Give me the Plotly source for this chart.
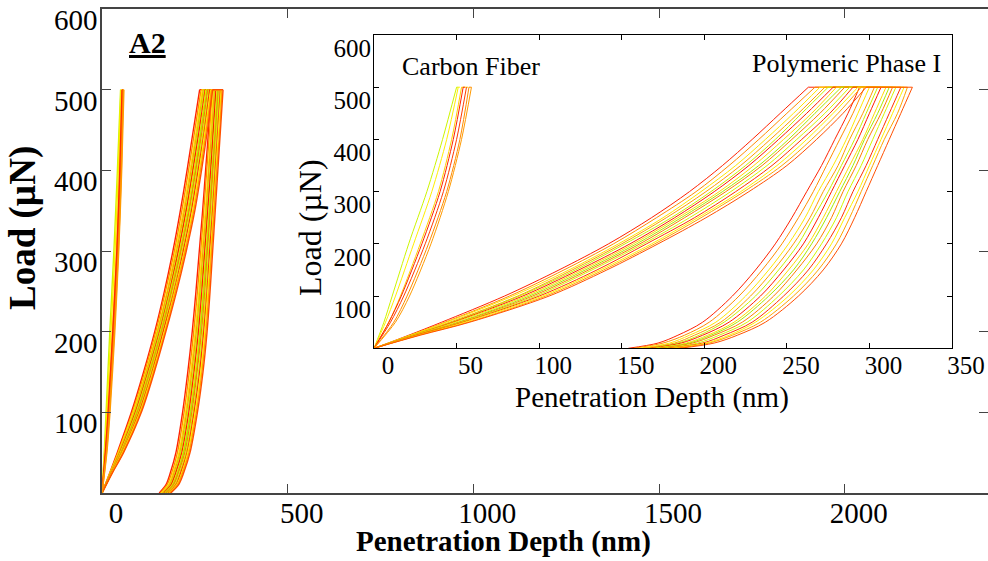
import plotly.graph_objects as go

# ---------------- data ----------------
LOAD_LEVELS = [0, 25, 50, 100, 150, 200, 250, 300, 350, 400, 450, 500]        # µN, loading
UNLOAD_LEVELS = [0, 10, 25, 50, 100, 150, 200, 250, 300, 350, 400, 450, 500]  # µN, unloading
HOLD_LOAD = 500

# Polymeric Phase I: penetration depth (nm) at each load level
POLY_LOADING = [
    [0, 21, 41, 79, 112, 142, 168, 191, 211, 229, 246, 263],
    [0, 22, 43, 82, 115, 145, 171, 195, 215, 233, 250, 267],
    [0, 22, 44, 84, 118, 148, 175, 198, 219, 237, 254, 270],
    [0, 23, 46, 87, 120, 150, 177, 201, 222, 240, 257, 273],
    [0, 23, 47, 88, 122, 152, 180, 204, 225, 243, 259, 275],
    [0, 24, 48, 90, 124, 155, 182, 206, 227, 245, 262, 278],
    [0, 24, 49, 92, 126, 157, 184, 209, 230, 248, 265, 280],
    [0, 25, 51, 94, 128, 159, 186, 211, 233, 251, 267, 283],
    [0, 25, 52, 96, 130, 161, 188, 213, 235, 253, 270, 285],
    [0, 26, 53, 98, 132, 163, 191, 216, 238, 256, 273, 288],
    [0, 26, 54, 100, 135, 165, 194, 219, 241, 259, 276, 290],
    [0, 27, 55, 102, 137, 168, 196, 222, 244, 262, 278, 293],
    [0, 27, 57, 104, 139, 170, 198, 224, 247, 265, 281, 295],
    [0, 28, 58, 106, 141, 172, 201, 227, 250, 268, 284, 298],
]
POLY_UNLOADING = [
    [154, 172, 184, 199, 217, 231, 243, 253, 262, 271, 279, 287, 294],
    [157, 175, 188, 203, 221, 235, 247, 257, 266, 274, 282, 290, 297],
    [160, 179, 191, 207, 225, 239, 251, 261, 269, 278, 286, 293, 300],
    [163, 182, 194, 210, 228, 242, 254, 264, 272, 281, 288, 296, 303],
    [165, 184, 197, 212, 231, 245, 257, 266, 275, 283, 291, 298, 305],
    [167, 186, 199, 215, 234, 248, 260, 269, 277, 285, 293, 300, 307],
    [169, 189, 202, 218, 237, 251, 263, 272, 280, 288, 296, 303, 310],
    [171, 191, 204, 220, 239, 254, 265, 274, 282, 290, 297, 305, 312],
    [173, 193, 206, 223, 242, 256, 268, 277, 284, 292, 299, 307, 314],
    [176, 196, 209, 226, 245, 260, 271, 280, 287, 295, 302, 309, 316],
    [178, 199, 212, 229, 248, 263, 274, 283, 290, 298, 305, 312, 319],
    [180, 201, 215, 231, 251, 266, 277, 285, 293, 300, 307, 314, 321],
    [182, 203, 217, 234, 254, 269, 280, 288, 295, 302, 309, 317, 323],
    [185, 206, 220, 237, 257, 272, 283, 291, 298, 305, 312, 319, 326],
]
POLY_COLORS = ["#ff2200", "#ff8c00", "#ffe600", "#ff9a00", "#c8f000", "#ff1a00", "#ffd800",
               "#a8e800", "#ff7a00", "#d4f500", "#ff3000", "#fff000", "#ffa200", "#ff5000"]

# Carbon Fiber: loading curves + hold
CF_LOADS = [0, 50, 100, 200, 300, 400, 500]
CF_LOADING = [
    [0, 6, 11, 21, 32, 41.5, 50],
    [0, 7, 13, 24, 35, 44, 51],
    [0, 9, 16, 28, 39, 47, 53],
    [0, 9, 16.5, 29, 40, 48, 54],
    [0, 10, 18, 31, 42, 50, 56],
    [0, 12, 20, 33, 44, 52, 57.5],
    [0, 13, 21.5, 34.5, 45, 53, 59],
]
CF_HOLD_END = [51, 52, 57, 55, 56, 59, 59]
CF_COLORS = ["#ccf500", "#ffee00", "#ffd000", "#ff2000", "#ff3a00", "#ff8a00", "#ff9a00"]

MAIN_X_TICKS = [0, 500, 1000, 1500, 2000]
MAIN_Y_TICKS = [100, 200, 300, 400, 500, 600]
INSET_X_TICKS = [0, 50, 100, 150, 200, 250, 300, 350]
INSET_Y_TICKS = [100, 200, 300, 400, 500, 600]

FONT = "Liberation Serif"

fig = go.Figure()


def add_curves(xref, yref, width):
    for load, unload, col in zip(POLY_LOADING, POLY_UNLOADING, POLY_COLORS):
        fig.add_trace(go.Scatter(x=load, y=LOAD_LEVELS, mode="lines", xaxis=xref, yaxis=yref,
                                 line=dict(color=col, width=width, shape="spline", smoothing=0.9),
                                 showlegend=False, hoverinfo="skip"))
        fig.add_trace(go.Scatter(x=[load[-1], unload[-1]], y=[HOLD_LOAD, HOLD_LOAD], mode="lines",
                                 xaxis=xref, yaxis=yref, line=dict(color=col, width=width),
                                 showlegend=False, hoverinfo="skip"))
        fig.add_trace(go.Scatter(x=unload, y=UNLOAD_LEVELS, mode="lines", xaxis=xref, yaxis=yref,
                                 line=dict(color=col, width=width, shape="spline", smoothing=0.9),
                                 showlegend=False, hoverinfo="skip"))
    for load, hend, col in zip(CF_LOADING, CF_HOLD_END, CF_COLORS):
        fig.add_trace(go.Scatter(x=load, y=CF_LOADS, mode="lines", xaxis=xref, yaxis=yref,
                                 line=dict(color=col, width=width, shape="spline", smoothing=0.8),
                                 showlegend=False, hoverinfo="skip"))
        fig.add_trace(go.Scatter(x=[load[-1], hend], y=[HOLD_LOAD, HOLD_LOAD], mode="lines",
                                 xaxis=xref, yaxis=yref, line=dict(color=col, width=width),
                                 showlegend=False, hoverinfo="skip"))


add_curves("x", "y", 1.4)
add_curves("x2", "y2", 1.0)


def axis(domain, rng, ticks, linecolor, lw, ticklen, shift, standoff, size, **kw):
    return dict(domain=domain, range=rng, tickvals=ticks, showgrid=False, zeroline=False,
                showline=True, mirror="ticks", ticks="inside", linecolor=linecolor,
                linewidth=lw, tickcolor=linecolor, ticklen=ticklen, ticklabelshift=shift,
                ticklabelstandoff=standoff, automargin=False,
                tickfont=dict(family=FONT, size=size, color="black"), **kw)


fig.update_layout(
    width=988, height=561,
    margin=dict(l=102, r=0, t=9, b=68, autoexpand=False),
    paper_bgcolor="white", plot_bgcolor="white",
    font=dict(family=FONT, color="black"),
    showlegend=False,
    xaxis=axis([0, 1], [0, 2386], MAIN_X_TICKS, "#444", 1.5, 9, 14, -7, 29),
    yaxis=axis([0, 1], [0, 600], MAIN_Y_TICKS, "#444", 1.5, 9, 11, -3, 29),
    xaxis2=axis([0.307, 0.9594], [0, 350], INSET_X_TICKS, "black", 1.2, 5, 14, -5, 25, anchor="y2"),
    yaxis2=axis([0.299, 0.9463], [0, 600], INSET_Y_TICKS, "black", 1.2, 5, 13, -3, 25, anchor="x2"),
)

ann = [
    dict(text="<b>Load (µN)</b>", x=-0.0892, y=0.5475, textangle=-90, size=37),
    dict(text="<b>Penetration Depth (nm)</b>", x=0.4532, y=-0.0992, size=29),
    dict(text="<b><u>A2</u></b>", x=0.0508, y=0.9318, size=30),
    dict(text="Load (µN)", x=0.2348, y=0.5475, textangle=-90, size=32),
    dict(text="Penetration Depth (nm)", x=0.6208, y=0.1963, size=29),
]
for a in ann:
    fig.add_annotation(text=a["text"], x=a["x"], y=a["y"], xref="paper", yref="paper",
                       xanchor="center", yanchor="middle", textangle=a.get("textangle", 0),
                       showarrow=False, font=dict(family=FONT, size=a["size"], color="black"))
fig.add_annotation(text="Carbon Fiber", x=0.3363, y=0.8802, xref="paper", yref="paper",
                   xanchor="left", yanchor="middle", showarrow=False,
                   font=dict(family=FONT, size=26, color="black"))
fig.add_annotation(text="Polymeric Phase I", x=0.9492, y=0.8884, xref="paper", yref="paper",
                   xanchor="right", yanchor="middle", showarrow=False,
                   font=dict(family=FONT, size=26, color="black"))

fig.write_html("out.html", config={"displayModeBar": False},
               post_script="document.body.style.margin='0px';document.body.style.overflow='hidden';")
